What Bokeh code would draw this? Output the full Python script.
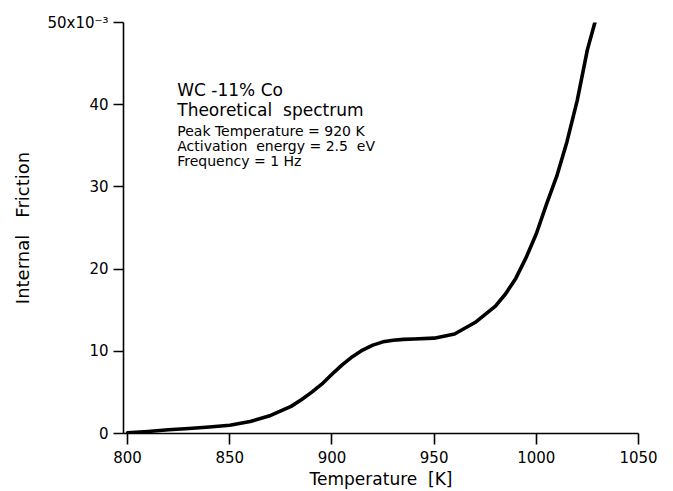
from bokeh.plotting import figure
from bokeh.models import Label, Range1d, FixedTicker
from bokeh.embed import file_html
from bokeh.resources import INLINE

# Data (internal friction in units of 1e-3)
temperature_K = [800, 810, 820, 830, 840, 850, 860, 870, 880, 885, 890, 895, 900, 905,
                 910, 915, 920, 925, 930, 935, 940, 950, 960, 970, 980, 985, 990, 995,
                 1000, 1005, 1010, 1015, 1020, 1025, 1029]
friction_e3 = [0.1, 0.25, 0.45, 0.6, 0.8, 1.0, 1.45, 2.2, 3.3, 4.1, 5.0, 6.0, 7.2, 8.35,
               9.35, 10.15, 10.75, 11.15, 11.35, 11.45, 11.5, 11.6, 12.1, 13.5, 15.5, 17.0,
               18.9, 21.4, 24.3, 27.9, 31.3, 35.5, 40.5, 46.7, 50.3]

x_ticks = [800, 850, 900, 950, 1000, 1050]
y_ticks = [0, 10, 20, 30, 40, 50]
y_tick_labels = {50: "50x10\u207b\u00b3"}

NB = "\u00a0"
annotation_lines = ["WC -11% Co", "Theoretical" + NB + " spectrum",
                    "Peak Temperature = 920 K", "Activation" + NB + " energy = 2.5" + NB + " eV",
                    "Frequency = 1 Hz"]
annotation_sizes = ["17px", "17px", "14px", "14px", "14px"]
annotation_y = [41.83, 39.4, 36.8, 34.95, 33.13]

FONT = "DejaVu Sans"

p = figure(width=673, height=491, output_backend="svg", toolbar_location=None,
           x_range=Range1d(798, 1050), y_range=Range1d(0, 50),
           min_border_left=123, min_border_right=35, min_border_top=22,
           min_border_bottom=57)
p.outline_line_color = None
p.xgrid.visible = False
p.ygrid.visible = False
p.background_fill_color = "white"
p.border_fill_color = "white"

p.line(temperature_K, friction_e3, line_color="black", line_width=3.6,
       line_join="round", line_cap="round")

for ax in (p.xaxis[0], p.yaxis[0]):
    ax.axis_line_color = "black"
    ax.axis_line_width = 1.6
    ax.major_tick_line_color = "black"
    ax.major_tick_line_width = 1.6
    ax.major_tick_in = 0
    ax.minor_tick_line_color = None
    ax.major_label_text_font = FONT
    ax.major_label_text_font_size = "15px"
    ax.major_label_text_color = "black"
    ax.axis_label_text_font = FONT
    ax.axis_label_text_font_style = "normal"
    ax.axis_label_text_color = "black"

p.xaxis.ticker = FixedTicker(ticks=x_ticks)
p.yaxis.ticker = FixedTicker(ticks=y_ticks)
p.yaxis.major_label_overrides = y_tick_labels
p.xaxis.major_tick_out = 11
p.yaxis.major_tick_out = 10
p.xaxis.major_label_standoff = 6
p.yaxis.major_label_standoff = 5
p.xaxis.axis_label = "Temperature" + NB + " [K]"
p.yaxis.axis_label = "Internal" + NB + NB + " Friction"
p.xaxis.axis_label_text_font_size = "17px"
p.yaxis.axis_label_text_font_size = "18px"
p.xaxis.axis_label_standoff = 3
p.yaxis.axis_label_standoff = 12

for txt, size, yy in zip(annotation_lines, annotation_sizes, annotation_y):
    p.add_layout(Label(x=824.3, y=yy, text=txt, text_font=FONT, text_font_size=size,
                       text_color="black", text_baseline="alphabetic", text_align="left"))

open("out.html", "w").write(file_html(p, INLINE))
